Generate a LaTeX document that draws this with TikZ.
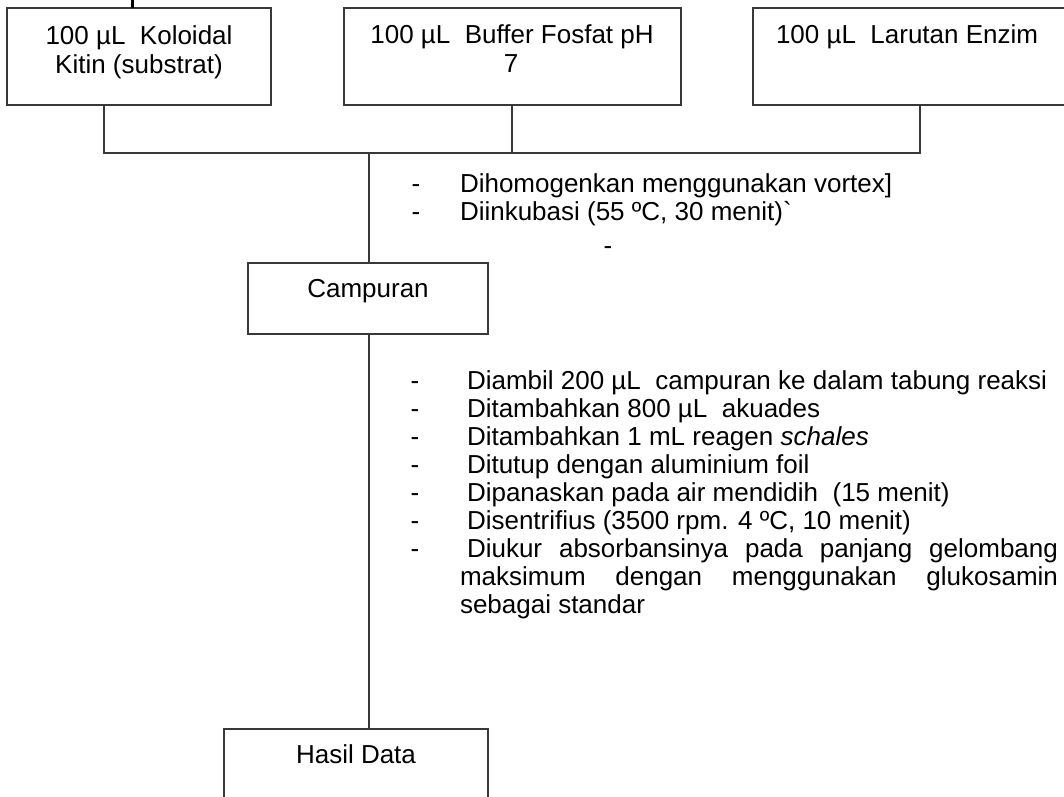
\documentclass[tikz,border=0pt]{standalone}
\usepackage{fontspec}
\setmainfont{Liberation Sans}[Ligatures=TeXOff]
\begin{document}
\begin{tikzpicture}[x=1pt,y=-1pt,
  line/.style={draw=black!78, line width=1.2pt},
  box/.style={line, anchor=north west, inner sep=0pt, outer sep=0pt},
  txt/.style={inner sep=0pt, outer sep=0pt, font=\fontsize{26}{29.5}\selectfont},
]
\useasboundingbox (0,0) rectangle (1064,796);
\clip (0,0) rectangle (1064,796);
% boxes
\node[box, minimum width=264pt, minimum height=97pt] (b1) at (7,8) {};
\node[box, minimum width=337pt, minimum height=97pt] (b2) at (344,8) {};
\node[box, minimum width=340pt, minimum height=97pt] (b3) at (753,8) {};
\node[box, minimum width=240pt, minimum height=71pt] (camp) at (248,263) {};
\node[box, minimum width=264pt, minimum height=120pt] (hasil) at (224,729) {};
% junction coordinates
\coordinate (h1) at (104,153);
\coordinate (h2) at (512,153);
\coordinate (h3) at (920,153);
\coordinate (hm) at (369,153);
\coordinate (tk) at (132,0);
% connectors
\draw[line] (b1.south -| h1) -- (h1) -- (h3) -- (b3.south -| h3);
\draw[line] (b2.south -| h2) -- (h2);
\draw[line] (hm) -- (camp.north -| hm);
\draw[line] (camp.south -| hm) -- (hasil.north -| hm);
\draw[draw=black, line width=3pt] (tk) -- (b1.north -| tk);
% box texts
\node[txt, anchor=base] (t1a) at (139,44) {100 µL\ \ Koloidal};
\node[txt, anchor=base] (t1b) at (139,73) {Kitin (substrat)};
\node[txt, anchor=base] (t2a) at (512,43) {100 µL\ \ Buffer Fosfat pH};
\node[txt, anchor=base] (t2b) at (511,72) {7};
\node[txt, anchor=base west] (t3) at (776,43) {100 µL\ \ Larutan Enzim};
\node[txt, anchor=base] (tc) at (368,297) {Campuran};
\node[txt, anchor=base] (th) at (356,763) {Hasil Data};
% upper list
\node[txt, anchor=base] (d1) at (416,192) {-};
\node[txt, anchor=base] (d2) at (416,220) {-};
\node[txt, anchor=base west] (u1) at (460,192) {Dihomogenkan menggunakan vortex]};
\node[txt, anchor=base west] (u2) at (460,220) {Diinkubasi (55 ºC, 30 menit)`};
\node[txt, anchor=base] (d3) at (608,254) {-};
% lower list
\foreach \i in {0,...,6} {
  \node[txt, anchor=base] (ld\i) at (415,389+28*\i) {-};
}
\node[txt, anchor=base west] (l0) at (467,389) {Diambil 200 µL\ \ campuran ke dalam tabung reaksi};
\node[txt, anchor=base west] (l1) at (467,417) {Ditambahkan 800 µL\ \ akuades};
\node[txt, anchor=base west] (l2) at (467,445) {Ditambahkan 1 mL reagen \textit{schales}};
\node[txt, anchor=base west] (l3) at (467,473) {Ditutup dengan aluminium foil};
\node[txt, anchor=base west] (l4) at (467,501) {Dipanaskan pada air mendidih\ \ (15 menit)};
\node[txt, anchor=base west] (l5) at (467,529) {Disentrifius (3500 rpm. 4 ºC, 10 menit)};
\node[txt, anchor=base west] (l6) at (467,557) {\makebox[591pt][s]{Diukur absorbansinya pada panjang gelombang}};
\node[txt, anchor=base west] (l7) at (460,585) {\makebox[598pt][s]{maksimum dengan menggunakan glukosamin}};
\node[txt, anchor=base west] (l8) at (460,613) {sebagai standar};
\end{tikzpicture}
\end{document}
